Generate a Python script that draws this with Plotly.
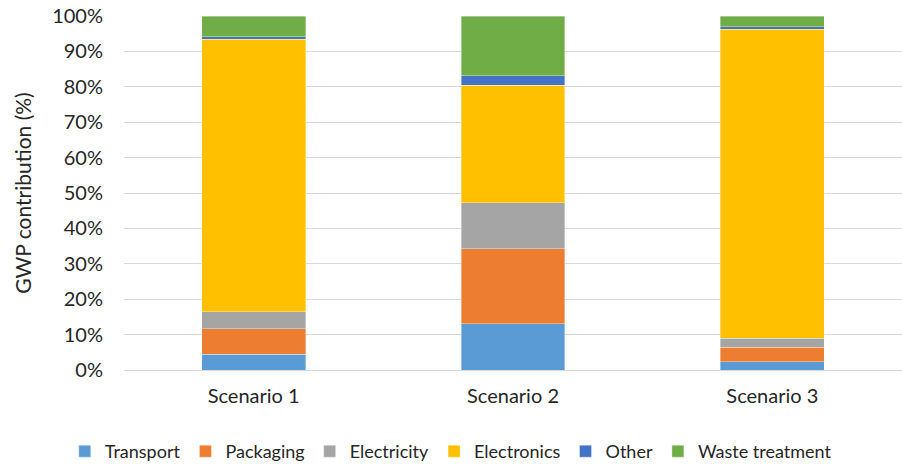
import plotly.graph_objects as go

scenarios = ["Scenario 1", "Scenario 2", "Scenario 3"]
transport = [4.4, 13.1, 2.4]
packaging = [7.3, 21.2, 4.0]
electricity = [4.8, 12.9, 2.6]
electronics = [76.9, 33.2, 87.3]
other = [0.7, 2.7, 0.6]
waste_treatment = [5.9, 16.9, 3.1]

series = [
    ("Transport", transport, "#5B9BD5"),
    ("Packaging", packaging, "#ED7D31"),
    ("Electricity", electricity, "#A5A5A5"),
    ("Electronics", electronics, "#FFC000"),
    ("Other", other, "#4472C4"),
    ("Waste treatment", waste_treatment, "#70AD47"),
]

FONT = "Lato, 'Open Sans', sans-serif"
fig = go.Figure()
for name, vals, col in series:
    fig.add_trace(go.Bar(x=scenarios, y=vals, name=name,
                         marker=dict(color=col, line=dict(color="rgba(255,255,255,0.6)", width=0.6))))

fig.update_layout(
    barmode="stack",
    bargap=0.6,
    width=902, height=470,
    margin=dict(l=124, r=0, t=16, b=99),
    paper_bgcolor="white", plot_bgcolor="white",
    font=dict(family=FONT, size=20, color="#262626"),
    legend=dict(orientation="h", x=0.42, xanchor="center",
                y=-0.178, yanchor="top", font=dict(size=18, color="#262626"),
                traceorder="normal", itemwidth=30),
    showlegend=True,
)
fig.update_yaxes(range=[0, 100], dtick=10, ticksuffix="%",
                 showgrid=True, gridcolor="#D9D9D9", gridwidth=1.3,
                 zeroline=True, zerolinecolor="#D9D9D9", zerolinewidth=1.3,
                 ticklabelstandoff=20,
                 title=dict(text="GWP contribution (%)", font=dict(size=21), standoff=14),
                 tickfont=dict(size=20))
fig.update_xaxes(showgrid=False, showline=False, tickangle=0,
                 tickfont=dict(size=20), ticklabelstandoff=12)

fig.write_html("out.html")
